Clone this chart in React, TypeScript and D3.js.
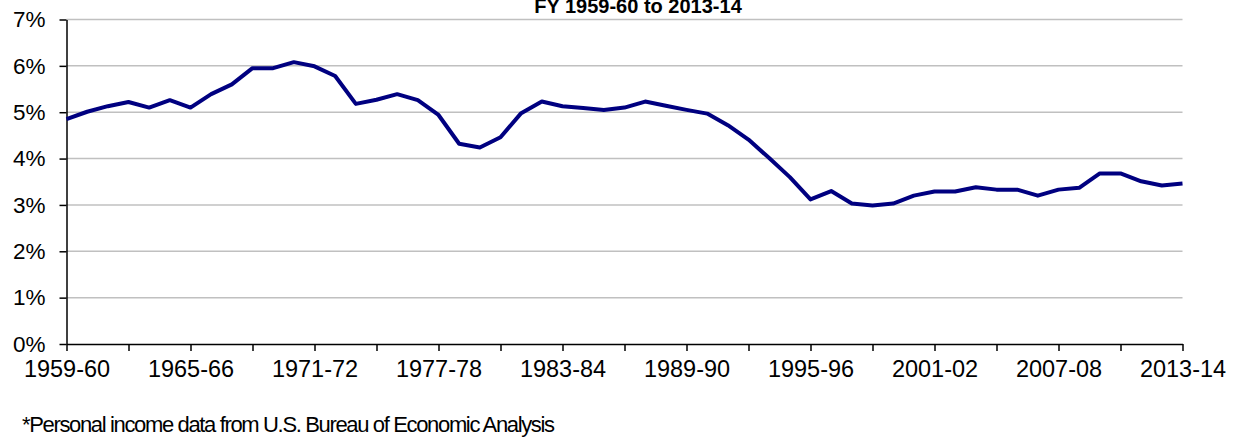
import React, { useEffect, useRef } from "react";
import * as d3 from "d3";

// fiscal years, 1959-60 .. 2013-14
const years = [
	"1959-60", "1960-61", "1961-62", "1962-63", "1963-64", "1964-65", "1965-66", "1966-67",
	"1967-68", "1968-69", "1969-70", "1970-71", "1971-72", "1972-73", "1973-74", "1974-75",
	"1975-76", "1976-77", "1977-78", "1978-79", "1979-80", "1980-81", "1981-82", "1982-83",
	"1983-84", "1984-85", "1985-86", "1986-87", "1987-88", "1988-89", "1989-90", "1990-91",
	"1991-92", "1992-93", "1993-94", "1994-95", "1995-96", "1996-97", "1997-98", "1998-99",
	"1999-00", "2000-01", "2001-02", "2002-03", "2003-04", "2004-05", "2005-06", "2006-07",
	"2007-08", "2008-09", "2009-10", "2010-11", "2011-12", "2012-13", "2013-14",
];

// share of personal income, percent
const share = [
	4.85, 5.01, 5.13, 5.22, 5.10, 5.26, 5.10, 5.39, 5.60, 5.95,
	5.95, 6.08, 5.99, 5.78, 5.18, 5.27, 5.39, 5.26, 4.94, 4.32,
	4.24, 4.46, 4.98, 5.23, 5.13, 5.09, 5.05, 5.10, 5.23, 5.14,
	5.05, 4.97, 4.72, 4.41, 4.01, 3.60, 3.12, 3.30, 3.03, 2.99,
	3.03, 3.20, 3.29, 3.29, 3.38, 3.33, 3.33, 3.20, 3.33, 3.37,
	3.68, 3.68, 3.51, 3.42, 3.46,
];

const yTicks = [0, 1, 2, 3, 4, 5, 6, 7];
const titleText = "FY 1959-60 to 2013-14";
const noteText = "*Personal income data from U.S. Bureau of Economic Analysis";

const W = 1237;
const H = 444;
const FONT = "'Liberation Sans', Arial, sans-serif";

export default function App() {
	const svgRef = useRef<SVGSVGElement | null>(null);

	useEffect(() => {
		if (!svgRef.current) return;
		const svg = d3.select(svgRef.current);
		svg.selectAll("*").remove();

		const left = 66.5;
		const right = 1182.5;
		const top = 19.5;
		const bottom = 344;

		const x = d3.scalePoint<string>().domain(years).range([left, right]);
		const y = d3.scaleLinear().domain([0, 7]).range([bottom, top]);

		// сетка
		svg
			.append("g")
			.selectAll("line")
			.data(yTicks.filter((t) => t > 0))
			.enter()
			.append("line")
			.attr("x1", left)
			.attr("x2", right)
			.attr("y1", (d) => y(d))
			.attr("y2", (d) => y(d))
			.attr("stroke", "#c0c0c0")
			.attr("stroke-width", 1.5);

		// оси
		const yAxis = svg
			.append("g")
			.attr("transform", `translate(${left},0)`)
			.call(
				d3
					.axisLeft(y)
					.tickValues(yTicks)
					.tickSize(7)
					.tickSizeOuter(0)
					.tickPadding(14)
					.tickFormat((d) => `${d}%`)
			);
		yAxis.select(".domain").attr("stroke", "#000").attr("stroke-width", 1.5);
		yAxis.selectAll(".tick line").attr("stroke", "#000").attr("stroke-width", 1.5);
		yAxis
			.selectAll("text")
			.attr("font-family", FONT)
			.attr("font-size", 22.5)
			.attr("fill", "#000");

		const tickYears = years.filter((_, i) => i % 3 === 0);
		const xAxis = svg
			.append("g")
			.attr("transform", `translate(0,${bottom})`)
			.call(
				d3
					.axisBottom(x)
					.tickValues(tickYears)
					.tickSize(7)
					.tickSizeOuter(0)
					.tickPadding(9)
					.tickFormat((d) => (years.indexOf(d) % 6 === 0 ? d : ""))
			);
		xAxis.select(".domain").attr("stroke", "#000").attr("stroke-width", 1.5);
		xAxis.selectAll(".tick line").attr("stroke", "#000").attr("stroke-width", 1.5);
		xAxis
			.selectAll("text")
			.attr("font-family", FONT)
			.attr("font-size", 23.5)
			.attr("fill", "#000");

		// линия
		const line = d3
			.line<number>()
			.x((_, i) => x(years[i]) || 0)
			.y((d) => y(d));

		svg
			.append("path")
			.datum(share)
			.attr("d", line)
			.attr("fill", "none")
			.attr("stroke", "#000080")
			.attr("stroke-width", 4)
			.attr("stroke-linejoin", "round");

		// заголовок (обрезан сверху, как в оригинале)
		svg
			.append("text")
			.attr("x", 638)
			.attr("y", 13)
			.attr("text-anchor", "middle")
			.attr("font-family", FONT)
			.attr("font-size", 20)
			.attr("font-weight", "bold")
			.text(titleText);

		svg
			.append("text")
			.attr("x", 22)
			.attr("y", 432)
			.attr("font-family", FONT)
			.attr("font-size", 22)
			.attr("textLength", 533)
			.attr("lengthAdjust", "spacing")
			.text(noteText);
	}, []);

	return (
		<svg
			ref={svgRef}
			width={W}
			height={H}
			style={{ position: "absolute", left: 0, top: 0, background: "#fff" }}
		></svg>
	);
}
